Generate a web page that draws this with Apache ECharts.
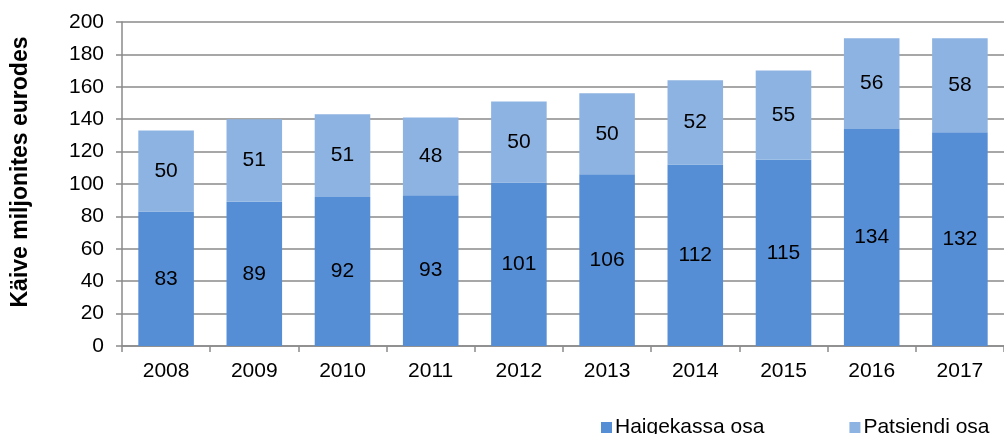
<!DOCTYPE html>
<html>
<head>
<meta charset="utf-8">
<script src="https://cdn.jsdelivr.net/npm/echarts@6/dist/echarts.min.js"></script>
<style>
  html, body { margin: 0; padding: 0; background: #fff; }
  #chart { width: 1004px; height: 434px; }
</style>
</head>
<body>
<div id="chart"></div>
<script>
// andmed
const years = ['2008', '2009', '2010', '2011', '2012', '2013', '2014', '2015', '2016', '2017'];
const haigekassa = [83, 89, 92, 93, 101, 106, 112, 115, 134, 132];
const patsient = [50, 51, 51, 48, 50, 50, 52, 55, 56, 58];

const dark = '#558ED5';
const light = '#8DB3E2';
const grey = '#8a8a8a';
const font = 'Arial, "Liberation Sans", sans-serif';

const chart = echarts.init(document.getElementById('chart'));

const labelStyle = {
    show: true,
    position: 'inside',
    color: '#000',
    fontSize: 21,
    fontFamily: font
};

chart.setOption({
    animation: false,
    grid: { left: 122, top: 22, width: 890, height: 324 },
    legend: {
        left: 596,
        top: 412,
        itemWidth: 11,
        itemHeight: 11,
        itemGap: 85,
        icon: 'rect',
        textStyle: { fontSize: 21, color: '#000', fontFamily: font, padding: [0, 0, 0, -2] },
        data: ['Haigekassa osa', 'Patsiendi osa']
    },
    graphic: [{
        type: 'text',
        x: 21,
        y: 172,
        rotation: Math.PI / 2,
        style: {
            text: 'Käive miljonites eurodes',
            fontSize: 23,
            fontWeight: 'bold',
            fontFamily: font,
            fill: '#000',
            textAlign: 'center',
            textVerticalAlign: 'middle'
        }
    }],
    xAxis: {
        type: 'category',
        data: years,
        axisLine: { lineStyle: { color: grey, width: 1.5 } },
        axisTick: { show: true, length: 6, lineStyle: { color: grey, width: 1.5 } },
        axisLabel: { color: '#000', fontSize: 21, fontFamily: font, margin: 15 }
    },
    yAxis: {
        type: 'value',
        min: 0,
        max: 200,
        interval: 20,
        axisLine: { show: true, lineStyle: { color: grey, width: 1.5 } },
        axisTick: { show: true, length: 6, lineStyle: { color: grey, width: 1.5 } },
        splitLine: { lineStyle: { color: grey, width: 1.5 } },
        axisLabel: { color: '#000', fontSize: 21, fontFamily: font, margin: 18 }
    },
    series: [
        {
            name: 'Haigekassa osa',
            type: 'bar',
            stack: 'kokku',
            data: haigekassa,
            barCategoryGap: '37%',
            itemStyle: { color: dark },
            label: labelStyle
        },
        {
            name: 'Patsiendi osa',
            type: 'bar',
            stack: 'kokku',
            data: patsient,
            itemStyle: { color: light },
            label: labelStyle
        }
    ]
});
</script>
</body>
</html>
